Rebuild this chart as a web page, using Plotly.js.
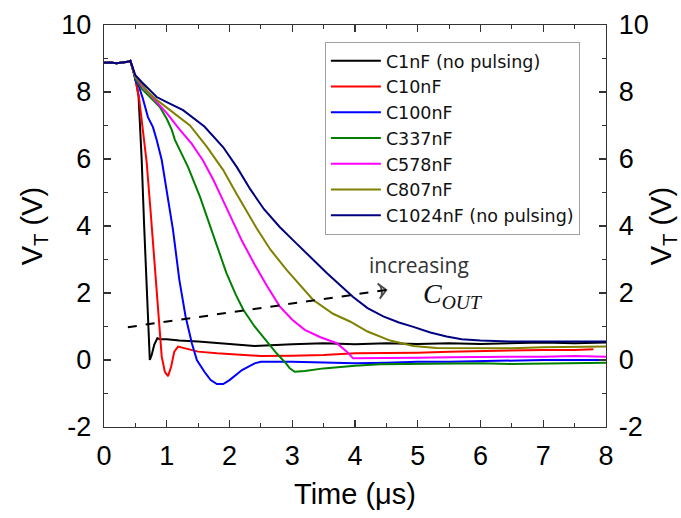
<!DOCTYPE html>
<html>
<head>
<meta charset="utf-8">
<script src="https://cdn.plot.ly/plotly-3.0.1.min.js"></script>
<style>html,body{margin:0;padding:0;background:#fff;}#chart{width:681px;height:518px;}</style>
</head>
<body>
<div id="chart"></div>
<script>
// ---- data (time in µs, V_T in V) ----
const names = ["C1nF (no pulsing)", "C10nF", "C100nF", "C337nF", "C578nF", "C807nF", "C1024nF (no pulsing)"];
const colors = ["#000000", "#ff0000", "#0000ff", "#008000", "#ff00ff", "#808000", "#000080"];

const startX = [0, 0.1, 0.2, 0.3, 0.38, 0.42, 0.46];
const startY = [8.87, 8.88, 8.86, 8.88, 8.9, 8.93, 8.7];

const c1X = [0.5, 0.55, 0.6, 0.64, 0.68, 0.71, 0.73, 0.76, 0.8, 0.85, 0.9, 1.0, 1.2, 1.5, 2.0, 2.4, 3.0, 3.5, 4.0, 4.5, 5.0, 5.5, 6.0, 6.5, 7.0, 7.5, 8.0];
const c1Y = [8.4, 7.9, 6.0, 4.0, 2.0, 0.6, 0.0, 0.15, 0.45, 0.65, 0.62, 0.62, 0.58, 0.55, 0.48, 0.42, 0.47, 0.5, 0.47, 0.5, 0.48, 0.5, 0.48, 0.5, 0.52, 0.5, 0.52];

const c10X = [0.5, 0.56, 0.62, 0.68, 0.74, 0.8, 0.86, 0.92, 0.97, 1.02, 1.07, 1.12, 1.18, 1.3, 1.5, 1.8, 2.2, 2.5, 3.0, 3.5, 4.0, 4.5, 5.0, 5.5, 6.0, 6.5, 7.0, 7.5, 7.8];
const c10Y = [8.4, 7.8, 6.8, 5.9, 4.5, 3.0, 1.5, 0.1, -0.35, -0.48, -0.2, 0.25, 0.4, 0.35, 0.25, 0.2, 0.15, 0.12, 0.13, 0.15, 0.2, 0.2, 0.22, 0.25, 0.27, 0.28, 0.3, 0.3, 0.32];

const c100X = [0.5, 0.55, 0.62, 0.7, 0.78, 0.84, 0.92, 1.0, 1.1, 1.2, 1.3, 1.4, 1.48, 1.6, 1.7, 1.8, 1.9, 2.0, 2.2, 2.4, 2.5, 3.0, 3.5, 4.0, 4.5, 5.0, 5.5, 6.0, 6.5, 7.0, 7.5, 8.0];
const c100Y = [8.35, 8.2, 7.8, 7.25, 6.95, 6.57, 5.97, 5.0, 3.88, 2.4, 1.3, 0.5, 0.0, -0.35, -0.6, -0.72, -0.72, -0.6, -0.3, -0.1, -0.05, -0.05, -0.08, -0.1, -0.08, -0.05, -0.05, -0.03, -0.02, 0.0, 0.0, 0.0];

const c337X = [0.5, 0.6, 0.7, 0.8, 0.89, 1.0, 1.08, 1.13, 1.34, 1.53, 1.67, 1.8, 1.95, 2.1, 2.22, 2.4, 2.6, 2.75, 2.9, 2.96, 3.04, 3.2, 3.5, 3.76, 4.0, 4.4, 5.0, 5.5, 6.0, 6.5, 7.0, 7.5, 8.0];
const c337Y = [8.4, 8.1, 7.9, 7.7, 7.55, 7.2, 6.87, 6.57, 5.76, 4.87, 4.1, 3.4, 2.6, 1.95, 1.5, 1.0, 0.55, 0.2, -0.1, -0.25, -0.35, -0.33, -0.25, -0.2, -0.17, -0.13, -0.12, -0.12, -0.1, -0.12, -0.1, -0.1, -0.08];

const c578X = [0.5, 0.6, 0.7, 0.85, 1.0, 1.21, 1.4, 1.58, 1.75, 1.9, 2.04, 2.2, 2.4, 2.6, 2.8, 3.0, 3.2, 3.45, 3.71, 3.87, 3.97, 4.2, 4.5, 5.0, 5.5, 6.0, 6.5, 7.0, 7.5, 8.0];
const c578Y = [8.45, 8.2, 8.0, 7.7, 7.37, 6.87, 6.45, 5.95, 5.35, 4.75, 4.18, 3.55, 2.85, 2.2, 1.6, 1.2, 0.9, 0.68, 0.5, 0.25, 0.05, 0.05, 0.05, 0.07, 0.08, 0.1, 0.1, 0.1, 0.12, 0.1];

const c807X = [0.5, 0.6, 0.7, 0.85, 1.05, 1.37, 1.64, 1.9, 2.1, 2.36, 2.43, 2.65, 2.91, 3.33, 3.65, 3.92, 4.2, 4.56, 4.93, 5.3, 6.0, 6.5, 7.0, 7.5, 8.0];
const c807Y = [8.45, 8.25, 8.0, 7.75, 7.46, 7.0, 6.36, 5.67, 5.0, 4.18, 3.94, 3.3, 2.69, 1.8, 1.38, 1.15, 0.85, 0.58, 0.42, 0.36, 0.35, 0.35, 0.38, 0.38, 0.4];

const c1024X = [0.5, 0.6, 0.7, 0.84, 1.0, 1.26, 1.6, 1.9, 2.12, 2.33, 2.55, 2.8, 3.0, 3.25, 3.55, 3.97, 4.2, 4.45, 4.7, 4.93, 5.2, 5.46, 5.7, 6.0, 6.5, 7.0, 7.5, 8.0];
const c1024Y = [8.5, 8.3, 8.1, 7.85, 7.7, 7.46, 6.97, 6.35, 5.75, 5.1, 4.5, 3.97, 3.6, 3.15, 2.6, 1.88, 1.55, 1.3, 1.12, 0.99, 0.82, 0.7, 0.62, 0.58, 0.55, 0.55, 0.55, 0.55];

const seriesX = [c1X, c10X, c100X, c337X, c578X, c807X, c1024X];
const seriesY = [c1Y, c10Y, c100Y, c337Y, c578Y, c807Y, c1024Y];

// dashed "increasing C_OUT" arrow
const arrowX = [0.38, 4.5];
const arrowY = [0.98, 2.09];

const xTicks = [0, 1, 2, 3, 4, 5, 6, 7, 8];
const yTicks = [-2, 0, 2, 4, 6, 8, 10];

// ---- traces ----
const traces = names.map((n, i) => ({
  type: "scatter", mode: "lines", name: n,
  x: startX.concat(seriesX[i]), y: startY.concat(seriesY[i]),
  line: {color: colors[i], width: 2}
}));

traces.push({
  type: "scatter", mode: "lines+markers", showlegend: false, hoverinfo: "skip",
  x: arrowX, y: arrowY,
  line: {color: "#000", width: 2, dash: "dash"},
  marker: {symbol: ["circle", "arrow-wide-open"], size: [0, 11], angleref: "previous",
           color: "#000", line: {color: "#000", width: 1.8}}
});
// dummy trace on right axis
traces.push({type: "scatter", mode: "lines", x: [0], y: [0], yaxis: "y2", showlegend: false,
             hoverinfo: "skip", line: {color: "rgba(0,0,0,0)"}});

const tickFont = {family: "Arial, 'Liberation Sans', sans-serif", size: 27, color: "#000"};
const titleFont = {family: "Arial, 'Liberation Sans', sans-serif", size: 29, color: "#000"};

const layout = {
  width: 681, height: 518,
  margin: {l: 104, r: 75, t: 25, b: 91},
  paper_bgcolor: "#fff", plot_bgcolor: "#fff",
  showlegend: true,
  legend: {
    x: 0.44, y: 0.958, xanchor: "left", yanchor: "top",
    bgcolor: "#fff", bordercolor: "#a0a0a0", borderwidth: 1,
    font: {family: "'DejaVu Sans', sans-serif", size: 17.5, color: "#111"},
    itemwidth: 50, tracegroupgap: 0
  },
  xaxis: {
    range: [0, 8], tickvals: xTicks, ticktext: xTicks.map(String),
    ticks: "inside", ticklen: 7, tickwidth: 1.2, tickcolor: "#333",
    minor: {dtick: 0.5, ticks: "inside", ticklen: 4, tickwidth: 1.2, tickcolor: "#333"},
    showline: true, linecolor: "#333", linewidth: 1.3, mirror: "ticks",
    showgrid: false, zeroline: false,
    tickfont: tickFont, ticklabelstandoff: 4,
    title: {text: "Time (\u03bcs)", font: titleFont, standoff: 14}
  },
  yaxis: {
    range: [-2, 10], tickvals: yTicks, ticktext: yTicks.map(String),
    ticks: "inside", ticklen: 7, tickwidth: 1.2, tickcolor: "#333",
    minor: {dtick: 1, ticks: "inside", ticklen: 4, tickwidth: 1.2, tickcolor: "#333"},
    showline: true, linecolor: "#333", linewidth: 1.3,
    showgrid: false, zeroline: false,
    tickfont: tickFont, ticklabelstandoff: 6,
    title: {text: "V<sub>T</sub> (V)", font: titleFont, standoff: 10}
  },
  yaxis2: {
    overlaying: "y", side: "right", range: [-2, 10],
    tickvals: yTicks, ticktext: yTicks.map(String),
    ticks: "inside", ticklen: 7, tickwidth: 1.2, tickcolor: "#333",
    minor: {dtick: 1, ticks: "inside", ticklen: 4, tickwidth: 1.2, tickcolor: "#333"},
    showline: true, linecolor: "#333", linewidth: 1.3,
    showgrid: false, zeroline: false,
    tickfont: tickFont, ticklabelstandoff: 6,
    title: {text: "V<sub>T</sub> (V)", font: titleFont, standoff: 4}
  },
  annotations: [
    {x: 5.02, y: 2.84, xref: "x", yref: "y", text: "increasing", showarrow: false,
     font: {family: "'Open Sans', 'Liberation Sans', sans-serif", size: 21, color: "#333"}},
    {x: 5.56, y: 1.94, xref: "x", yref: "y", text: "<i>C<sub>OUT</sub></i>", showarrow: false,
     font: {family: "'Liberation Serif', 'Times New Roman', serif", size: 28, color: "#111"}}
  ]
};

Plotly.newPlot("chart", traces, layout, {displayModeBar: false, staticPlot: true});
</script>
</body>
</html>
